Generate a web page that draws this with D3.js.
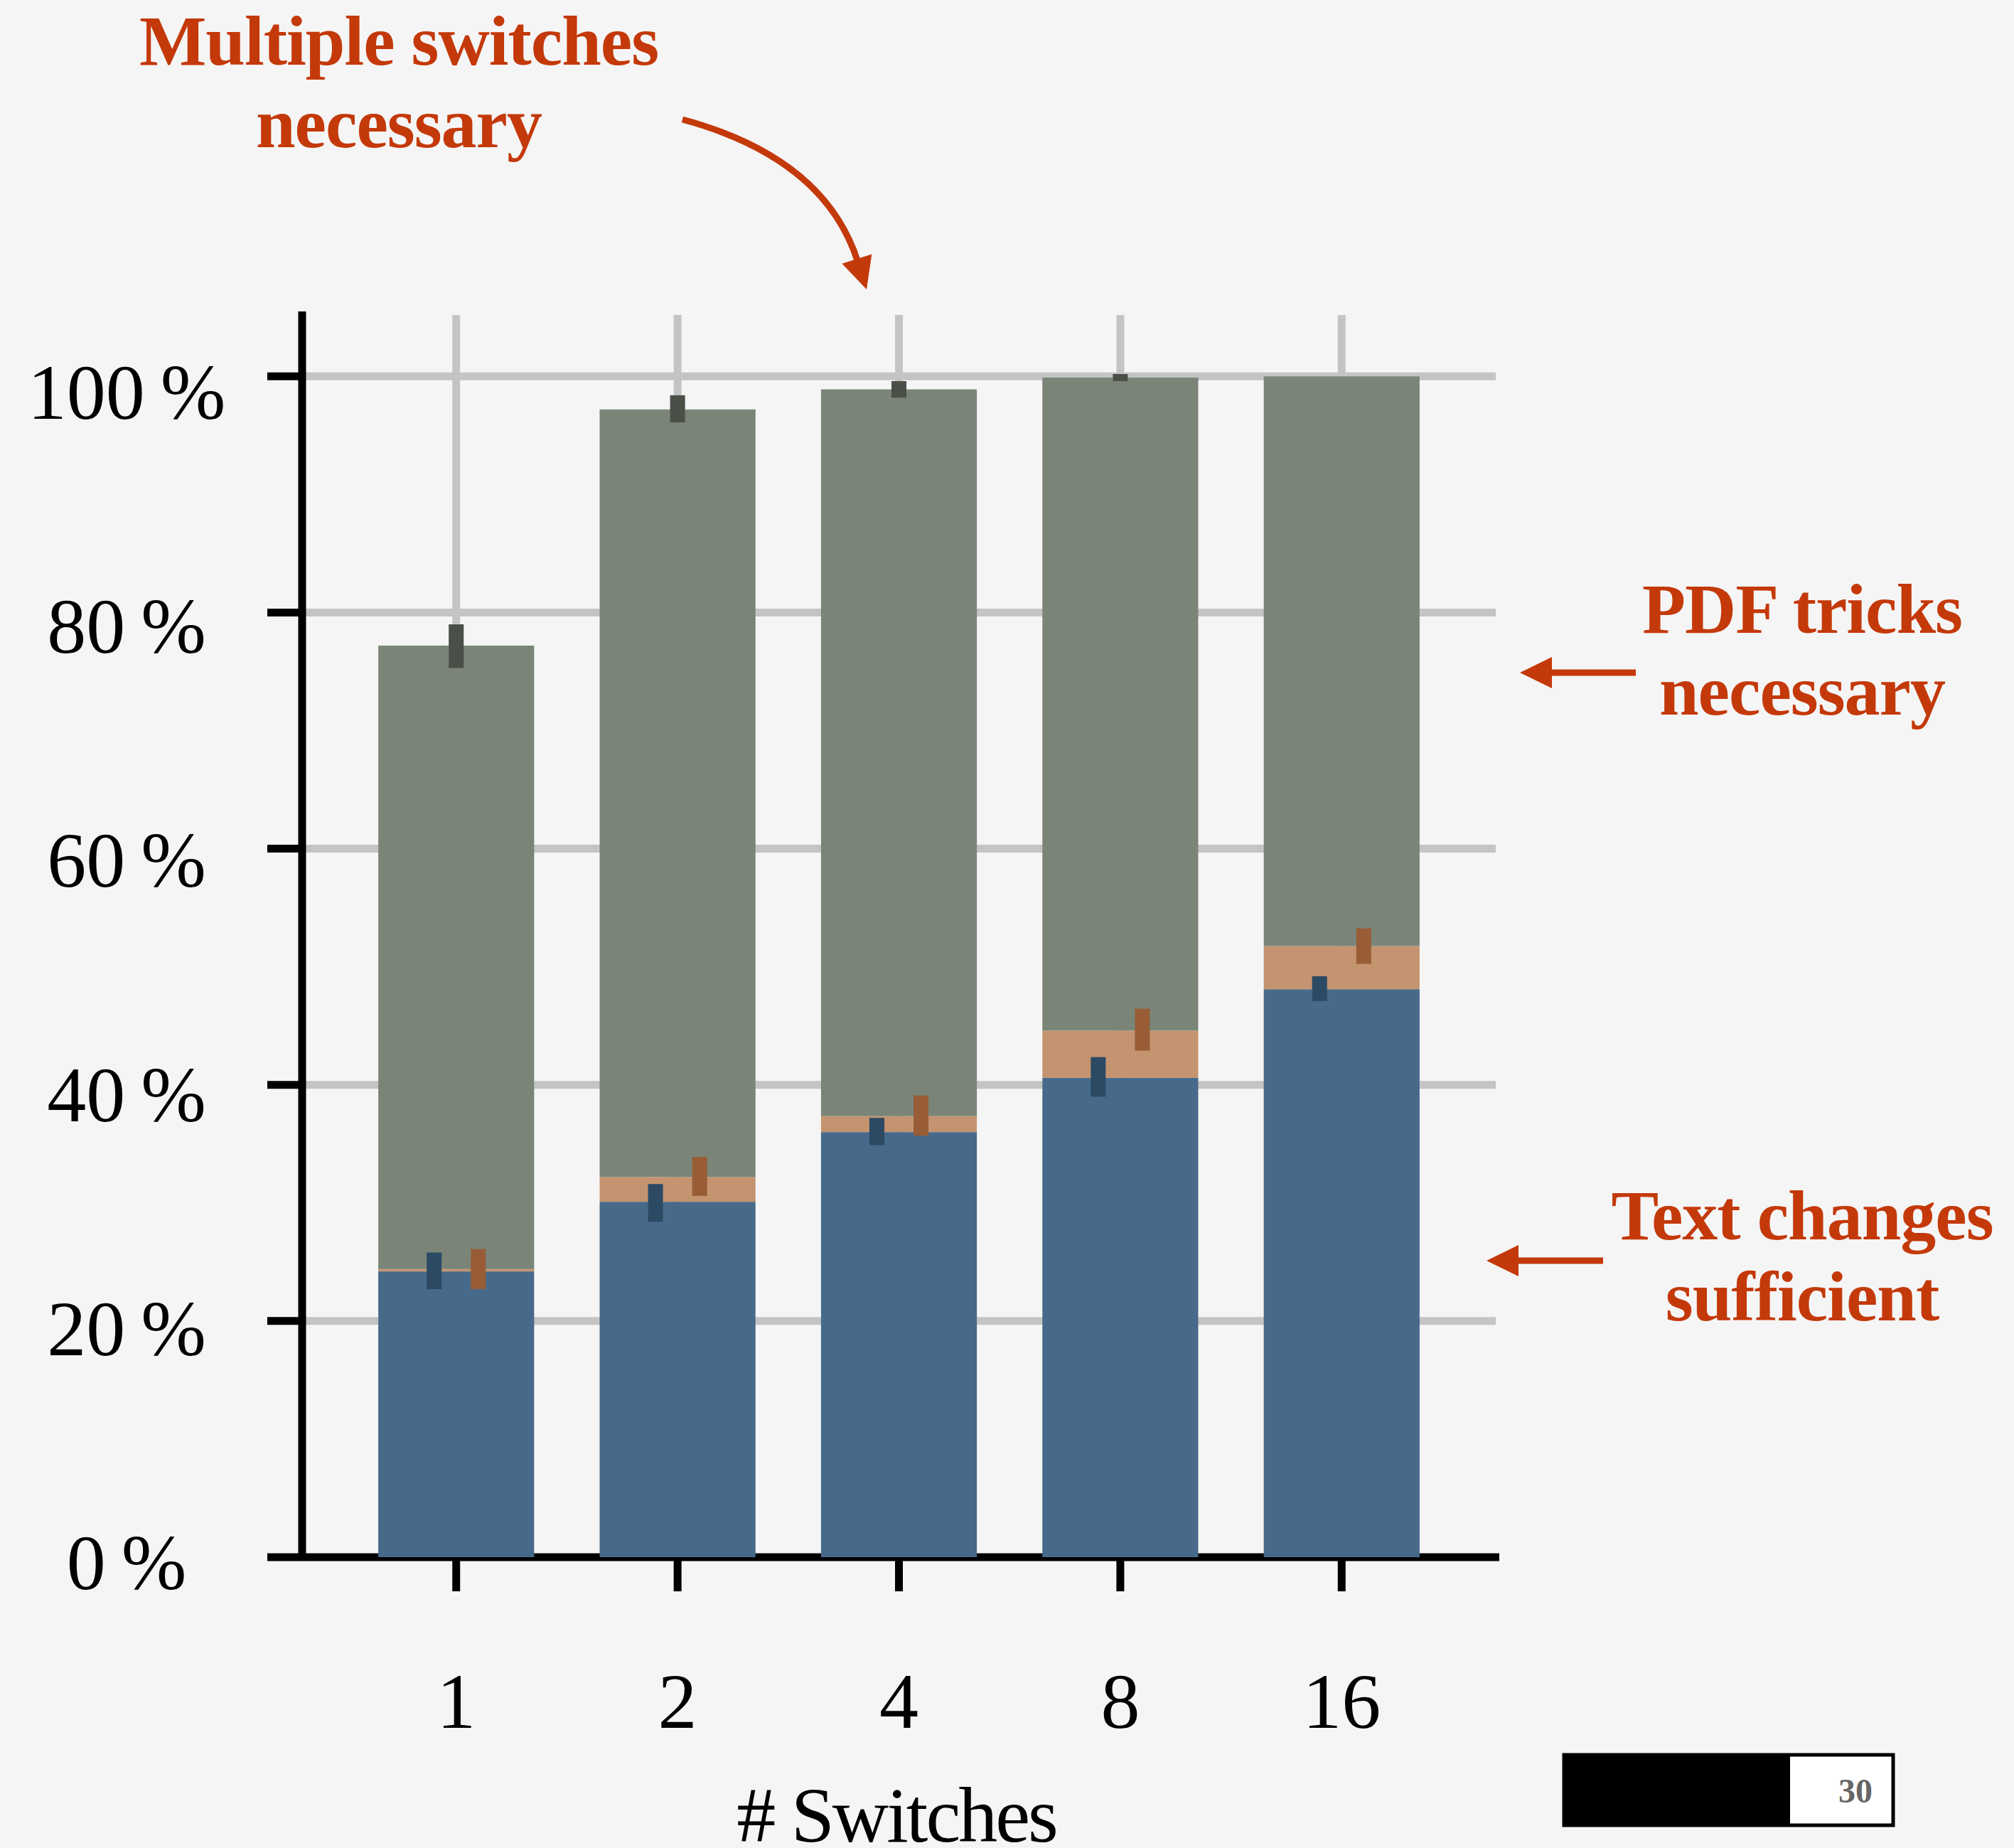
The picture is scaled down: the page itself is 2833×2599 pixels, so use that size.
<!DOCTYPE html>
<html lang="en">
<head>
    <meta charset="utf-8" />
    <title>Switches</title>
    <style>
        body { margin: 0; background: #f5f5f5; }
        text { font-family: "Liberation Serif", "DejaVu Serif", serif; }
        .tick-label { font-size: 110px; fill: #000; }
        .note { font-size: 100px; font-weight: bold; fill: #c4390a; letter-spacing: -1px; }
    </style>
</head>
<body>
    <div id="graph"></div>
    <script src="https://d3js.org/d3.v7.min.js"></script>
    <script>
        // # switches on the x axis
        var categories = ["1", "2", "4", "8", "16"];

        // cumulative shares in % (bottom to top)
        var textChanges = [24.2, 30.1, 36.0, 40.6, 48.1];   // blue
        var pdfTricks   = [24.4, 32.2, 37.35, 44.6, 51.75]; // orange (cumulative top)
        var multiple    = [77.2, 97.2, 98.9, 99.9, 100];    // green (cumulative top)

        // error intervals for each cumulative value
        var textLo  = [22.7, 28.4, 34.9, 39.0, 47.1];
        var textHi  = [25.8, 31.6, 37.2, 42.35, 49.2];
        var pdfLo   = [22.7, 30.6, 35.7, 42.9, 50.25];
        var pdfHi   = [26.1, 33.9, 39.1, 46.45, 53.25];
        var multiLo = [75.3, 96.1, 98.2, 99.6, 100];
        var multiHi = [79.0, 98.4, 99.6, 100.2, 100];

        var yTicks = [0, 20, 40, 60, 80, 100];
        var pageNumber = "30";

        var W = 2833, H = 2599;
        var plotLeft = 425, plotRight = 2104, plotTop = 438, plotBottom = 2190;

        var x = d3.scaleBand()
            .domain(categories)
            .range([plotLeft, plotRight])
            .paddingInner(0.296)
            .paddingOuter(0.344);
        var y = d3.scaleLinear()
            .domain([0, 105.5])
            .range([plotBottom, plotTop]);
        // tick labels sit a little lower the higher they go
        var yLabel = d3.scaleLinear().domain([0, 100]).range([2235, 589]);

        var svg = d3.select("#graph").append("svg")
            .attr("width", W)
            .attr("height", H)
            .style("display", "block");

        svg.append("rect").attr("width", W).attr("height", H).attr("fill", "#f5f5f5");

        // grid
        var grid = svg.append("g").attr("stroke", "#c4c4c4").attr("stroke-width", 11);
        grid.selectAll(".hg")
            .data(yTicks.slice(1))
            .enter().append("line")
            .attr("x1", plotLeft).attr("x2", plotRight)
            .attr("y1", function (d) { return y(d); })
            .attr("y2", function (d) { return y(d); });
        grid.selectAll(".vg")
            .data(categories)
            .enter().append("line")
            .attr("x1", function (d) { return x(d) + x.bandwidth() / 2; })
            .attr("x2", function (d) { return x(d) + x.bandwidth() / 2; })
            .attr("y1", plotTop + 5).attr("y2", plotBottom);

        // axes
        var axis = svg.append("g").attr("stroke", "#000").attr("stroke-width", 11);
        axis.append("line").attr("x1", plotLeft).attr("x2", plotLeft).attr("y1", plotTop).attr("y2", plotBottom + 5);
        axis.append("line").attr("x1", plotLeft).attr("x2", plotRight + 5).attr("y1", plotBottom).attr("y2", plotBottom);
        axis.selectAll(".yt")
            .data(yTicks)
            .enter().append("line")
            .attr("x1", plotLeft - 49).attr("x2", plotLeft)
            .attr("y1", function (d) { return y(d); })
            .attr("y2", function (d) { return y(d); });
        axis.selectAll(".xt")
            .data(categories)
            .enter().append("line")
            .attr("x1", function (d) { return x(d) + x.bandwidth() / 2; })
            .attr("x2", function (d) { return x(d) + x.bandwidth() / 2; })
            .attr("y1", plotBottom).attr("y2", plotBottom + 48);

        // stacked bars
        var segments = [
            { lo: categories.map(function () { return 0; }), hi: textChanges, color: "#476a8b" },
            { lo: textChanges, hi: pdfTricks, color: "#c4936f" },
            { lo: pdfTricks, hi: multiple, color: "#7a8578" }
        ];
        segments.forEach(function (s) {
            svg.append("g").selectAll("rect")
                .data(categories)
                .enter().append("rect")
                .attr("x", function (d) { return x(d); })
                .attr("width", x.bandwidth())
                .attr("y", function (d, i) { return y(s.hi[i]); })
                .attr("height", function (d, i) { return y(s.lo[i]) - y(s.hi[i]); })
                .attr("fill", s.color);
        });

        // error bars (thick, no caps)
        var errs = [
            { lo: textLo, hi: textHi, off: -0.1416, color: "#2c4a64" },
            { lo: pdfLo, hi: pdfHi, off: 0.1416, color: "#985d37" },
            { lo: multiLo, hi: multiHi, off: 0, color: "#4a4f47" }
        ];
        var ew = x.bandwidth() * 0.096;
        errs.forEach(function (e) {
            svg.append("g").selectAll("rect")
                .data(categories)
                .enter().append("rect")
                .attr("x", function (d) { return x(d) + x.bandwidth() * (0.5 + e.off) - ew / 2; })
                .attr("width", ew)
                .attr("y", function (d, i) { return y(e.hi[i]); })
                .attr("height", function (d, i) { return y(e.lo[i]) - y(e.hi[i]); })
                .attr("fill", e.color);
        });

        // tick labels
        svg.append("g").selectAll("text")
            .data(yTicks)
            .enter().append("text")
            .attr("class", "tick-label")
            .attr("x", 178)
            .attr("y", function (d) { return yLabel(d); })
            .attr("text-anchor", "middle")
            .text(function (d) { return d + "\u2009%"; });

        svg.append("g").selectAll("text")
            .data(categories)
            .enter().append("text")
            .attr("class", "tick-label")
            .attr("x", function (d) { return x(d) + x.bandwidth() / 2; })
            .attr("y", 2430)
            .attr("text-anchor", "middle")
            .text(function (d) { return d; });

        svg.append("text")
            .attr("class", "tick-label")
            .attr("x", 1261).attr("y", 2590)
            .attr("text-anchor", "middle")
            .style("letter-spacing", "-3px")
            .text("# Switches");

        // annotations
        function note(lines, cx, y0, dy) {
            var t = svg.append("text").attr("class", "note").attr("text-anchor", "middle");
            lines.forEach(function (l, i) {
                t.append("tspan").attr("x", cx).attr("y", y0 + i * dy).text(l);
            });
        }
        note(["Multiple switches", "necessary"], 561, 91, 116);
        note(["PDF tricks", "necessary"], 2535, 890, 115);
        note(["Text changes", "sufficient"], 2535, 1743, 114);

        function arrowHead(tip, dir) {
            var len = Math.sqrt(dir[0] * dir[0] + dir[1] * dir[1]);
            var ux = dir[0] / len, uy = dir[1] / len;
            var bx = tip[0] - ux * 45, by = tip[1] - uy * 45;
            var px = -uy * 22, py = ux * 22;
            svg.append("path")
                .attr("d", "M" + tip[0] + "," + tip[1] + "L" + (bx + px) + "," + (by + py) + "L" + (bx - px) + "," + (by - py) + "Z")
                .attr("fill", "#c4390a");
            return [bx + ux * 4, by + uy * 4];
        }
        var b1 = arrowHead([2138, 946], [-1, 0]);
        svg.append("line").attr("x1", 2301).attr("y1", 946).attr("x2", b1[0]).attr("y2", 946)
            .attr("stroke", "#c4390a").attr("stroke-width", 9);
        var b2 = arrowHead([2091, 1773], [-1, 0]);
        svg.append("line").attr("x1", 2255).attr("y1", 1773).attr("x2", b2[0]).attr("y2", 1773)
            .attr("stroke", "#c4390a").attr("stroke-width", 9);

        var p0 = [960, 168], c = [1160, 222], tip = [1219, 407];
        var b3 = arrowHead(tip, [tip[0] - c[0], tip[1] - c[1]]);
        svg.append("path")
            .attr("d", "M" + p0[0] + "," + p0[1] + "Q" + c[0] + "," + c[1] + " " + b3[0] + "," + b3[1])
            .attr("fill", "none").attr("stroke", "#c4390a").attr("stroke-width", 9);

        // page counter box
        svg.append("rect").attr("x", 2200).attr("y", 2468).attr("width", 463).attr("height", 99)
            .attr("fill", "#fff").attr("stroke", "#000").attr("stroke-width", 5);
        svg.append("rect").attr("x", 2198).attr("y", 2466).attr("width", 320).attr("height", 103)
            .attr("fill", "#000");
        svg.append("text")
            .attr("x", 2634).attr("y", 2535)
            .attr("text-anchor", "end")
            .style("font-size", "48px").style("font-weight", "bold").style("fill", "#666")
            .text(pageNumber);
    </script>
</body>
</html>
